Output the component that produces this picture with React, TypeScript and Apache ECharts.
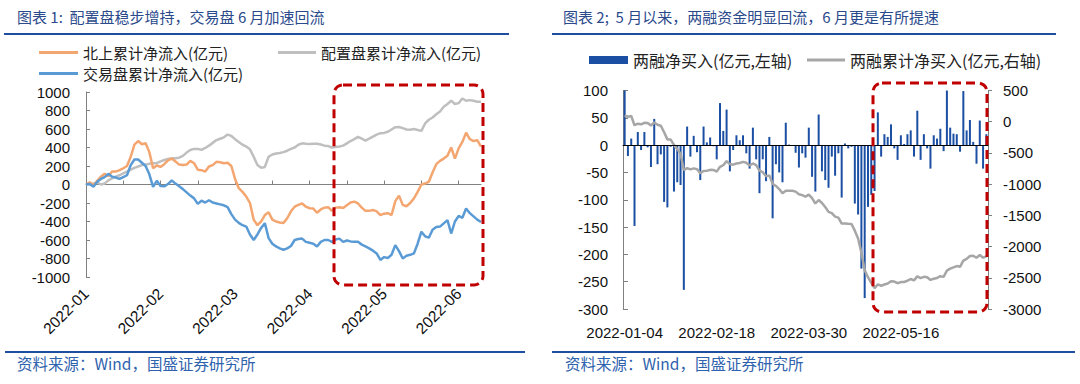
import React, { useEffect, useRef } from "react";
import * as echarts from "echarts";

// ---------- Chart 1 data (cumulative flows, 亿元) ----------
const leftMonthLabels = ["2022-01", "2022-02", "2022-03", "2022-04", "2022-05", "2022-06"];
const northbound = [
  0, 25, -10, 40, 85, 115, 90, 140, 140, 155, 175, 200, 300, 430, 470, 435, 445, 350, 175, 205,
  190, 220, 260, 280, 250, 215, 210, 215, 255, 230, 160, 155, 140, 195, 210, 245, 240, 230, 235, 200,
  60, -40, -80, -130, -200, -380, -440, -400, -330, -300, -380, -400, -410, -415, -365, -290, -240, -220, -205, -240,
  -257, -260, -305, -270, -250, -245, -285, -250, -245, -255, -225, -195, -185, -205, -250, -285, -285, -275, -290, -330,
  -315, -310, -330, -180, -120, -220, -235, -200, -150, -80, 0, 10, 30, 130, 220, 255, 280, 310, 400, 280,
  390, 460, 560, 490, 470, 480, 410,
];
const allocation = [
  0, 5, 10, 25, 0, 10, 45, 65, 85, 100, 120, 140, 160, 180, 195, 210, 215, 225, 230, 230,
  250, 265, 275, 285, 285, 290, 310, 345, 373, 385, 385, 375, 395, 420, 450, 480, 495, 510, 540, 525,
  490, 460, 430, 410, 380, 300, 210, 180, 190, 300, 325, 335, 340, 350, 365, 385, 400, 430, 445, 440,
  438, 440, 440, 432, 420, 415, 400, 405, 410, 420, 445, 470, 490, 515, 495, 475, 495, 517, 540, 555,
  558, 570, 595, 620, 622, 610, 595, 592, 600, 590, 580, 660, 700, 725, 760, 790, 840, 870, 905, 870,
  880, 930, 905, 912, 905, 895, 895,
];
const trading = [
  0, 5, -25, 30, 60, 80, 115, 85, 75, 60, 80, 100, 210, 270, 270, 235, 200, 110, -25, 40,
  -15, -20, 5, 45, 10, -20, -50, -85, -120, -150, -210, -175, -195, -170, -195, -205, -215, -225, -245, -320,
  -380, -415, -440, -455, -540, -600, -540, -470, -418, -580, -640, -670, -690, -705, -690, -665, -600, -590, -585, -620,
  -630, -640, -670, -620, -600, -600, -620, -595, -585, -620, -605, -615, -620, -620, -650, -670, -690, -715, -745, -815,
  -785, -795, -760, -655, -720, -800, -770, -760, -745, -640, -510, -560, -575, -490, -460, -455, -420, -385, -530, -400,
  -340, -360, -260, -310, -345, -380, -405,
];

// ---------- Chart 2 data (margin financing, 亿元) ----------
const rightTickLabels = ["2022-01-04", "2022-02-18", "2022-03-30", "2022-05-16"];
const marginDaily = [
  100, -20, 12, -148, 24, -9, 24, -4, -40, 48, -35, -17, -104, -114, -3, -85, -68, -73, -265, 34,
  -21, 17, -13, -64, 34, 5, 14, -2, -26, 77, 26, 65, -48, -9, 18, 9, 18, -15, -43, 32,
  -26, -88, -26, -66, 15, -134, -35, -50, -68, 41, 1, -1, -14, -41, -15, -23, 32, -58, -85, 56,
  -48, -64, -78, -21, -56, -15, -96, 3, -6, -3, -107, -127, -226, -280, -113, -91, -84, 60, -21, 20,
  15, 38, -6, -27, 18, 2, 20, 27, -21, 63, -27, 20, -6, -43, 18, 12, 30, -11, 100, 32,
  21, 20, -12, 99, 27, 46, 6, -34, 45, -43, 20,
];
const marginCumulative = [
  100, 80, 92, -56, -32, -41, -17, -21, -61, -13, -48, -65, -169, -283, -286, -371, -439, -512, -777, -743,
  -764, -747, -760, -824, -790, -785, -771, -773, -799, -722, -696, -631, -679, -688, -670, -661, -643, -658, -701, -669,
  -695, -783, -809, -875, -860, -994, -1029, -1079, -1147, -1106, -1105, -1106, -1120, -1161, -1176, -1199, -1167, -1225, -1310, -1254,
  -1302, -1366, -1444, -1465, -1521, -1536, -1632, -1629, -1635, -1638, -1745, -1872, -2098, -2378, -2491, -2582, -2666, -2606, -2627, -2607,
  -2592, -2554, -2560, -2587, -2569, -2567, -2547, -2520, -2541, -2478, -2505, -2485, -2491, -2534, -2516, -2504, -2474, -2485, -2385, -2353,
  -2332, -2312, -2324, -2225, -2198, -2152, -2146, -2180, -2135, -2178, -2158,
];

const FONT = '"Liberation Sans", "Noto Sans CJK SC", sans-serif';
const CJK = '"Noto Sans CJK SC", "Liberation Sans", sans-serif';
const TITLE_COLOR = "#2B4A8C";
const RULE_COLOR = "#1F4E9E";
const SOURCE_COLOR = "#2F62AD";
const AXIS_GRAY = "#808080";
const plain = (v: number) => String(v);

export default function App() {
  const ref = useRef<HTMLDivElement>(null);

  useEffect(() => {
    if (!ref.current) return;
    const chart = echarts.init(ref.current, undefined, { renderer: "svg" });
    const leftCats = northbound.map((_, i) => String(i));
    const rightCats = marginDaily.map((_, i) => String(i));
    const legendTextL = { fontFamily: CJK, fontSize: 15, color: "#222", lineHeight: 19 };
    const legendTextR = { fontFamily: CJK, fontSize: 16, color: "#222", lineHeight: 18 };

    const option: any = {
      animation: false,
      backgroundColor: "#ffffff",
      textStyle: { fontFamily: FONT },
      legend: [
        {
          orient: "vertical",
          left: 39,
          top: 43,
          padding: 0,
          icon: "rect",
          itemWidth: 39,
          itemHeight: 3,
          itemGap: 2,
          data: ["北上累计净流入(亿元)", "交易盘累计净流入(亿元)"],
          textStyle: legendTextL,
        },
        {
          left: 278,
          top: 43,
          padding: 0,
          icon: "rect",
          itemWidth: 38,
          itemHeight: 3,
          data: ["配置盘累计净流入(亿元)"],
          textStyle: legendTextL,
        },
        {
          left: 589,
          top: 51,
          padding: 0,
          itemWidth: 39,
          itemHeight: 8,
          icon: "rect",
          data: ["两融净买入(亿元,左轴)"],
          textStyle: legendTextR,
        },
        {
          left: 807,
          top: 51,
          padding: 0,
          icon: "rect",
          itemWidth: 38,
          itemHeight: 3,
          data: ["两融累计净买入(亿元,右轴)"],
          textStyle: legendTextR,
        },
      ],
      grid: [
        { left: 86, top: 92, width: 395, height: 185 },
        { left: 623, top: 90.5, width: 365, height: 218.5 },
      ],
      xAxis: [
        {
          gridIndex: 0,
          type: "category",
          data: leftCats,
          boundaryGap: false,
          axisLine: { onZero: true, lineStyle: { color: AXIS_GRAY, width: 1 } },
          axisTick: {
            inside: true,
            length: 4,
            interval: (i: number) => i % 10 === 0,
            lineStyle: { color: AXIS_GRAY },
          },
          axisLabel: { show: false },
        },
        {
          gridIndex: 0,
          type: "category",
          data: leftCats,
          boundaryGap: false,
          position: "bottom",
          axisLine: { show: false, onZero: false },
          axisTick: { show: false },
          axisLabel: {
            interval: (i: number) => i % 20 === 0,
            formatter: (_v: string, i: number) => leftMonthLabels[i / 20] ?? "",
            rotate: 45,
            margin: 14,
            fontSize: 15.5,
            color: "#111",
            fontFamily: FONT,
          },
        },
        {
          gridIndex: 1,
          type: "category",
          data: rightCats,
          boundaryGap: true,
          axisLine: { onZero: true, lineStyle: { color: "#000", width: 1 } },
          axisTick: { show: false },
          axisLabel: { show: false },
          z: 5,
        },
        {
          gridIndex: 1,
          type: "category",
          data: rightCats,
          boundaryGap: true,
          position: "bottom",
          axisLine: { show: false, onZero: false },
          axisTick: { show: false },
          axisLabel: {
            interval: (i: number) => i % 28 === 0,
            formatter: (_v: string, i: number) => rightTickLabels[i / 28] ?? "",
            margin: 16,
            fontSize: 15,
            color: "#111",
            fontFamily: FONT,
          },
        },
      ],
      yAxis: [
        {
          gridIndex: 0,
          type: "value",
          min: -1000,
          max: 1000,
          interval: 200,
          axisLine: { show: true, lineStyle: { color: AXIS_GRAY } },
          axisTick: { show: true, inside: true, length: 4, lineStyle: { color: AXIS_GRAY } },
          splitLine: { show: false },
          axisLabel: { margin: 16, fontSize: 15, color: "#111", fontFamily: FONT, formatter: plain },
        },
        {
          gridIndex: 1,
          type: "value",
          min: -300,
          max: 100,
          interval: 50,
          axisLine: { show: true, lineStyle: { color: AXIS_GRAY } },
          axisTick: { show: true, inside: true, length: 5, lineStyle: { color: AXIS_GRAY } },
          splitLine: { show: false },
          axisLabel: { margin: 15, fontSize: 15, color: "#111", fontFamily: FONT, formatter: plain },
        },
        {
          gridIndex: 1,
          type: "value",
          position: "right",
          min: -3000,
          max: 500,
          interval: 500,
          axisLine: { show: true, lineStyle: { color: AXIS_GRAY } },
          axisTick: { show: true, inside: false, length: 4, lineStyle: { color: AXIS_GRAY } },
          splitLine: { show: false },
          axisLabel: { margin: 15, fontSize: 15, color: "#111", fontFamily: FONT, formatter: plain },
        },
      ],
      series: [
        {
          name: "配置盘累计净流入(亿元)",
          type: "line",
          xAxisIndex: 0,
          yAxisIndex: 0,
          data: allocation,
          symbol: "none",
          lineStyle: { color: "#BFBFBF", width: 2.5 },
          itemStyle: { color: "#BFBFBF" },
        },
        {
          name: "北上累计净流入(亿元)",
          type: "line",
          xAxisIndex: 0,
          yAxisIndex: 0,
          data: northbound,
          symbol: "none",
          lineStyle: { color: "#F4A671", width: 2.5 },
          itemStyle: { color: "#F4A671" },
        },
        {
          name: "交易盘累计净流入(亿元)",
          type: "line",
          xAxisIndex: 0,
          yAxisIndex: 0,
          data: trading,
          symbol: "none",
          lineStyle: { color: "#5B9BD5", width: 2.5 },
          itemStyle: { color: "#5B9BD5" },
        },
        {
          name: "两融净买入(亿元,左轴)",
          type: "bar",
          xAxisIndex: 2,
          yAxisIndex: 1,
          data: marginDaily,
          barWidth: 2,
          itemStyle: { color: "#1B4FA3" },
        },
        {
          name: "两融累计净买入(亿元,右轴)",
          type: "line",
          xAxisIndex: 2,
          yAxisIndex: 2,
          data: marginCumulative,
          symbol: "none",
          lineStyle: { color: "#A6A6A6", width: 2.5 },
          itemStyle: { color: "#A6A6A6" },
        },
      ],
      graphic: [
        {
          type: "text",
          x: 17,
          y: 16,
          style: {
            text: "图表 1:  配置盘稳步增持，交易盘 6 月加速回流",
            fontFamily: CJK,
            fontSize: 15,
            fill: TITLE_COLOR,
            verticalAlign: "middle",
          },
        },
        {
          type: "text",
          x: 563,
          y: 16,
          style: {
            text: "图表 2;  5 月以来，两融资金明显回流，6 月更是有所提速",
            fontFamily: CJK,
            fontSize: 15,
            fill: TITLE_COLOR,
            verticalAlign: "middle",
          },
        },
        { type: "line", shape: { x1: 4, y1: 34, x2: 509, y2: 34 }, style: { stroke: RULE_COLOR, lineWidth: 2 } },
        { type: "line", shape: { x1: 552, y1: 34, x2: 1056, y2: 34 }, style: { stroke: RULE_COLOR, lineWidth: 2 } },
        { type: "line", shape: { x1: 5, y1: 352, x2: 525, y2: 352 }, style: { stroke: RULE_COLOR, lineWidth: 2 } },
        { type: "line", shape: { x1: 552, y1: 352, x2: 1075, y2: 352 }, style: { stroke: RULE_COLOR, lineWidth: 2 } },
        {
          type: "text",
          x: 17,
          y: 363,
          style: {
            text: "资料来源：Wind，国盛证券研究所",
            fontFamily: CJK,
            fontSize: 15.5,
            fill: SOURCE_COLOR,
            verticalAlign: "middle",
          },
        },
        {
          type: "text",
          x: 565,
          y: 363,
          style: {
            text: "资料来源：Wind，国盛证券研究所",
            fontFamily: CJK,
            fontSize: 15.5,
            fill: SOURCE_COLOR,
            verticalAlign: "middle",
          },
        },
        {
          type: "rect",
          z: 100,
          shape: { x: 334, y: 85, width: 149, height: 200, r: 9 },
          style: { fill: "none", stroke: "#C00000", lineWidth: 3, lineDash: [9, 5] },
        },
        {
          type: "rect",
          z: 100,
          shape: { x: 873, y: 83, width: 114, height: 229, r: 9 },
          style: { fill: "none", stroke: "#C00000", lineWidth: 3, lineDash: [9, 5] },
        },
      ],
    };

    chart.setOption(option);
    return () => chart.dispose();
  }, []);

  return (
    <div
      ref={ref}
      style={{ position: "absolute", left: 0, top: 0, width: 1080, height: 384, background: "#fff" }}
    />
  );
}
